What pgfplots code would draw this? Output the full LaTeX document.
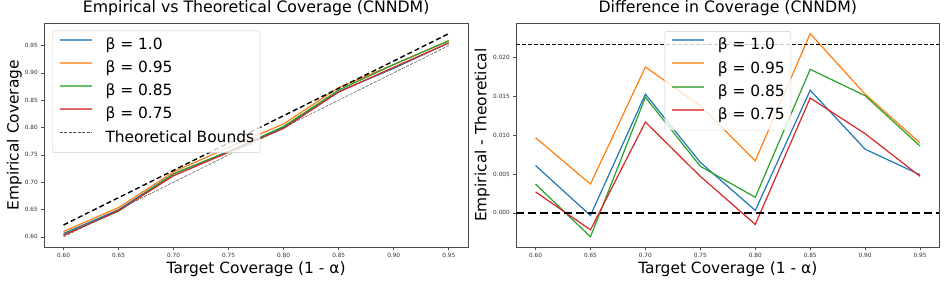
\documentclass[border=0pt]{standalone}
\usepackage{fontspec}
\setmainfont{DejaVu Sans}
\usepackage{pgfplots}
\pgfplotsset{compat=1.18}
\definecolor{tabblue}{HTML}{1F77B4}
\definecolor{taborange}{HTML}{FF7F0E}
\definecolor{tabgreen}{HTML}{2CA02C}
\definecolor{tabred}{HTML}{D62728}
\pgfplotsset{legend image code/.code={\path (0bp,0bp); \draw[#1] (0bp,5.6bp) -- (32bp,5.6bp);},
  leg/.style={legend image post style={line width=2bp, draw opacity=0.7}}}
\begin{document}
\begin{tikzpicture}
\path[use as bounding box] (0,0) rectangle (947bp,284bp);
\pgfplotsset{
 myaxis/.style={
  scale only axis, height=223.5bp, anchor=south west,
  axis line style={black!70, line width=0.6bp},
  tick align=outside, major tick length=3bp,
  tick style={black!70, line width=0.5bp},
  xtick pos=bottom, ytick pos=left,
  scaled x ticks=false, scaled y ticks=false,
  ticklabel style={font=\fontsize{5.8}{7}\selectfont, text=black!80},
  /pgf/number format/assume math mode=true,
  title style={font=\fontsize{15.8}{18}\selectfont, at={(0.5,1)}, anchor=base, yshift=5.2bp},
  label style={font=\fontsize{15.5}{18}\selectfont},
  xlabel style={at={(0.5,-0.1177)}, anchor=base},
  xmin=0.5825, xmax=0.9675,
  xtick={0.6,0.65,0.7,0.75,0.8,0.85,0.9,0.95},
  xticklabels={0.60,0.65,0.70,0.75,0.80,0.85,0.90,0.95},
  xlabel={Target Coverage (1 - α)},
  legend cell align=left,
  legend style={font=\fontsize{15.5}{18}\selectfont, draw=black!20,
    rounded corners=2bp, fill=white, fill opacity=0.8, text opacity=1,
    inner xsep=6bp, inner ysep=6.5bp, row sep=7.2bp, column sep=13bp,
    nodes={inner sep=0pt, text height=12bp, text depth=4bp}},
  every axis plot/.append style={line width=1.2bp},
 }
}
\begin{axis}[myaxis, at={(44.3bp,37bp)}, width=423.7bp,
  ymin=0.5814, ymax=0.9903,
  ytick={0.6,0.65,0.7,0.75,0.8,0.85,0.9,0.95},
  yticklabels={0.60,0.65,0.70,0.75,0.80,0.85,0.90,0.95},
  title={Empirical vs Theoretical Coverage (CNNDM)},
  ylabel={Empirical Coverage},
  ylabel style={at={(-0.0607,0.5)}, anchor=base},
  legend style={at={(0.0189,0.9678)}, anchor=north west},
]
\addplot[tabblue, leg] coordinates {(0.60,0.6061) (0.65,0.6497) (0.70,0.7153) (0.75,0.7565) (0.80,0.8003) (0.85,0.8658) (0.90,0.9082) (0.95,0.9549)};
\addlegendentry{β = 1.0}
\addplot[taborange, leg] coordinates {(0.60,0.6097) (0.65,0.6537) (0.70,0.7188) (0.75,0.7638) (0.80,0.8067) (0.85,0.8731) (0.90,0.9153) (0.95,0.9590)};
\addlegendentry{β = 0.95}
\addplot[tabgreen, leg] coordinates {(0.60,0.6037) (0.65,0.6469) (0.70,0.7149) (0.75,0.7560) (0.80,0.8020) (0.85,0.8685) (0.90,0.9151) (0.95,0.9586)};
\addlegendentry{β = 0.85}
\addplot[tabred, leg] coordinates {(0.60,0.6027) (0.65,0.6478) (0.70,0.7117) (0.75,0.7547) (0.80,0.7985) (0.85,0.8648) (0.90,0.9102) (0.95,0.9547)};
\addlegendentry{β = 0.75}
\addplot[black, line width=1.4bp, dash pattern=on 5bp off 3bp, forget plot] coordinates {(0.60,0.6217) (0.95,0.9717)};
\addplot[black!70, line width=0.5bp, dash pattern=on 3bp off 1.5bp] coordinates {(0.60,0.60) (0.95,0.95)};
\addlegendentry{Theoretical Bounds}
\end{axis}
\begin{axis}[myaxis, at={(516.3bp,37bp)}, width=423bp,
  ymin=-0.00441, ymax=0.02441,
  ytick={0,0.005,0.01,0.015,0.02},
  yticklabels={0.000,0.005,0.010,0.015,0.020},
  title={Difference in Coverage (CNNDM)},
  ylabel={Empirical - Theoretical},
  ylabel style={at={(-0.0709,0.5)}, anchor=base},
  legend style={at={(0.5,0.9656)}, anchor=north},
]
\addplot[tabblue, leg] coordinates {(0.60,0.0061) (0.65,-0.00035) (0.70,0.0153) (0.75,0.0065) (0.80,0.0003) (0.85,0.0158) (0.90,0.0082) (0.95,0.0049)};
\addlegendentry{β = 1.0}
\addplot[taborange, leg] coordinates {(0.60,0.0097) (0.65,0.0037) (0.70,0.0188) (0.75,0.0138) (0.80,0.0067) (0.85,0.0231) (0.90,0.0153) (0.95,0.0090)};
\addlegendentry{β = 0.95}
\addplot[tabgreen, leg] coordinates {(0.60,0.0037) (0.65,-0.0031) (0.70,0.0149) (0.75,0.0060) (0.80,0.0020) (0.85,0.0185) (0.90,0.0151) (0.95,0.0086)};
\addlegendentry{β = 0.85}
\addplot[tabred, leg] coordinates {(0.60,0.0027) (0.65,-0.0022) (0.70,0.0117) (0.75,0.0047) (0.80,-0.0015) (0.85,0.0148) (0.90,0.0102) (0.95,0.0047)};
\addlegendentry{β = 0.75}
\addplot[black, line width=1.4bp, dash pattern=on 4bp off 2bp, forget plot] coordinates {(0.5825,0.0217) (0.9675,0.0217)};
\addplot[black, line width=2bp, dash pattern=on 8bp off 4bp, forget plot] coordinates {(0.5825,0) (0.9675,0)};
\end{axis}
\end{tikzpicture}
\end{document}
